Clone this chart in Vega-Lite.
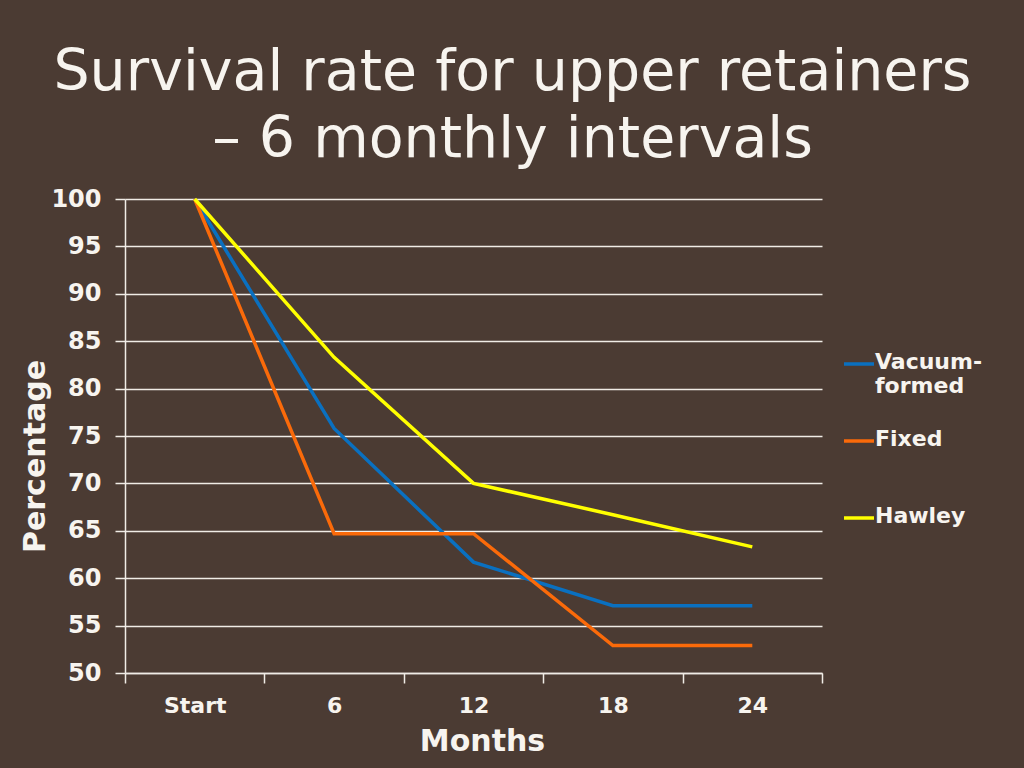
{
  "$schema": "https://vega.github.io/schema/vega-lite/v6.json",
  "autosize": {"type": "none"},
  "width": 697,
  "height": 474,
  "padding": {"left": 125, "top": 199, "right": 202, "bottom": 95},
  "background": "#4b3b33",
  "config": {
    "font": "DejaVu Sans",
    "view": {"stroke": null}
  },
  "title": {
    "text": ["Survival rate for upper retainers", "– 6 monthly intervals"],
    "anchor": "middle",
    "frame": "group",
    "dx": 39,
    "fontSize": 57,
    "fontWeight": "normal",
    "font": "DejaVu Sans",
    "color": "#f7f4ef",
    "lineHeight": 67,
    "baseline": "alphabetic",
    "offset": -27
  },
  "data": {
    "values": [
      {"month": 0, "type": "Vacuum-formed", "pct": 100},
      {"month": 6, "type": "Vacuum-formed", "pct": 75.8},
      {"month": 12, "type": "Vacuum-formed", "pct": 61.7},
      {"month": 18, "type": "Vacuum-formed", "pct": 57.1},
      {"month": 24, "type": "Vacuum-formed", "pct": 57.1},
      {"month": 0, "type": "Fixed", "pct": 100},
      {"month": 6, "type": "Fixed", "pct": 64.7},
      {"month": 12, "type": "Fixed", "pct": 64.7},
      {"month": 18, "type": "Fixed", "pct": 52.9},
      {"month": 24, "type": "Fixed", "pct": 52.9},
      {"month": 0, "type": "Hawley", "pct": 100},
      {"month": 6, "type": "Hawley", "pct": 83.3},
      {"month": 12, "type": "Hawley", "pct": 70},
      {"month": 18, "type": "Hawley", "pct": 66.7},
      {"month": 24, "type": "Hawley", "pct": 63.3}
    ]
  },
  "mark": {"type": "line", "strokeWidth": 3.5},
  "encoding": {
    "x": {
      "field": "month",
      "type": "quantitative",
      "scale": {"domain": [-3, 27], "nice": false, "zero": false},
      "axis": {
        "values": [-3, 3, 9, 15, 21, 27],
        "labelExpr": "datum.value == -3 ? 'Start' : datum.value == 27 ? '' : format(datum.value + 3, 'd')",
        "labelOffset": 69.7,
        "labelFlush": false,
        "labelBound": false,
        "labelOverlap": false,
        "labelFontSize": 22,
        "labelFontWeight": "bold",
        "labelColor": "#f7f4ef",
        "labelPadding": 12,
        "tickSize": 10,
        "tickColor": "#f0ece6",
        "tickWidth": 1.5,
        "domainColor": "#f0ece6",
        "domainWidth": 1.5,
        "grid": false,
        "title": "Months",
        "titleFontSize": 30,
        "titleFontWeight": "bold",
        "titleColor": "#f7f4ef",
        "titlePadding": 10,
        "titleX": 357
      }
    },
    "y": {
      "field": "pct",
      "type": "quantitative",
      "scale": {"domain": [50, 100], "nice": false, "zero": false},
      "axis": {
        "values": [50, 55, 60, 65, 70, 75, 80, 85, 90, 95, 100],
        "labelFontSize": 24,
        "labelFontWeight": "bold",
        "labelColor": "#f7f4ef",
        "labelPadding": 14,
        "tickSize": 10,
        "tickColor": "#f0ece6",
        "tickWidth": 1.5,
        "domainColor": "#f0ece6",
        "domainWidth": 1.5,
        "grid": true,
        "gridColor": "#f0ece6",
        "gridWidth": 1.5,
        "gridOpacity": 1,
        "title": "Percentage",
        "titleFontSize": 30,
        "titleFontWeight": "bold",
        "titleColor": "#f7f4ef",
        "titlePadding": 0,
        "titleY": 257
      }
    },
    "color": {
      "field": "type",
      "type": "nominal",
      "scale": {
        "domain": ["Vacuum-formed", "Fixed", "Hawley"],
        "range": ["#0a70c0", "#fa6a0a", "#ffff00"]
      },
      "legend": {
        "title": null,
        "orient": "none",
        "legendX": 717,
        "legendY": 148,
        "symbolType": "stroke",
        "symbolSize": 900,
        "symbolStrokeWidth": 3.5,
        "labelFontSize": 22,
        "labelFontWeight": "bold",
        "labelColor": "#f7f4ef",
        "labelLimit": 300,
        "labelOffset": -1,
        "labelBaseline": "top",
        "labelExpr": "datum.label == 'Vacuum-formed' ? ['Vacuum-', 'formed'] : datum.label",
        "gridAlign": "all",
        "rowPadding": 27,
        "encode": {"labels": {"update": {"dy": {"value": -12}}}}
      }
    }
  }
}
